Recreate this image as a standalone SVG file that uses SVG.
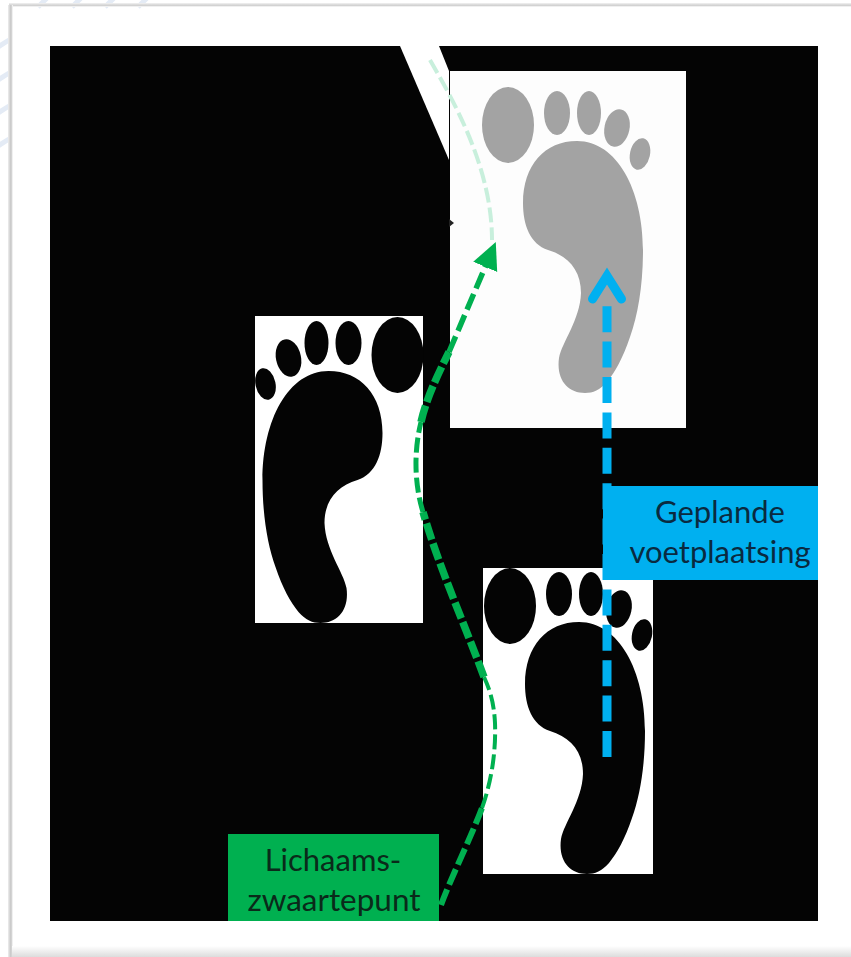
<svg xmlns="http://www.w3.org/2000/svg" width="851" height="957" viewBox="0 0 851 957">
<style>
.t{font-family:Lato,"Open Sans","Liberation Sans",sans-serif;font-size:31px;text-anchor:middle}
.g{stroke:#00b050;fill:none}
</style>
<defs>
<linearGradient id="fb" x1="0" y1="0" x2="0" y2="1"><stop offset="0" stop-color="#fff"/><stop offset="1" stop-color="#dcdcdc"/></linearGradient>
<linearGradient id="fl" x1="0" y1="0" x2="1" y2="0"><stop offset="0" stop-color="#eee"/><stop offset="0.6" stop-color="#c4c4c4"/><stop offset="1" stop-color="#fff"/></linearGradient>
<linearGradient id="ft" x1="0" y1="0" x2="0" y2="1"><stop offset="0" stop-color="#f2f2f2"/><stop offset="0.6" stop-color="#cfcfcf"/><stop offset="1" stop-color="#fff"/></linearGradient>
<g id="foot">
<path d="M577,141C617,141 643,190 643,250C643,285 638,315 630,337C623,358 615,372 607,382C600,390 593,393 585,393C568,393 556,380 559,358C562,342 580,320 581,293C581,270 568,256 548,250C530,244 523,225 523,203C523,165 545,141 577,141Z"/>
<ellipse cx="508" cy="125" rx="26" ry="38"/>
<ellipse cx="557" cy="113" rx="13" ry="22"/>
<ellipse cx="589" cy="113" rx="12" ry="22"/>
<ellipse cx="617" cy="128" rx="12.5" ry="19" transform="rotate(12 617 128)"/>
<ellipse cx="640" cy="154" rx="10" ry="16" transform="rotate(12 640 154)"/>
</g>
<marker id="ga" markerUnits="userSpaceOnUse" markerWidth="40" markerHeight="40" viewBox="0 0 40 40" refX="2" refY="20" orient="auto"><path d="M0,7L27,20L0,33Z" fill="#00b050"/></marker>
<marker id="ba" markerUnits="userSpaceOnUse" markerWidth="60" markerHeight="60" viewBox="0 0 60 60" refX="6" refY="30" orient="auto"><path d="M10,15.5L33,30L10,44.5" fill="none" stroke="#00b0f0" stroke-width="9" stroke-linecap="round"/></marker>
</defs>
<rect width="851" height="957" fill="#fff"/>
<path d="M38,7L48,-3M72,7L82,-3M105,7L115,-3M138,7L148,-3M-2,47L9,40M-2,80L9,73M-2,113L9,106M-2,146L9,139" stroke="#e4ebf5" stroke-width="5" fill="none"/>
<rect x="9" y="3" width="842" height="4" fill="url(#ft)"/>
<rect x="8" y="5" width="5" height="952" fill="url(#fl)"/>
<rect x="12" y="946" width="839" height="11" fill="url(#fb)"/>
<rect x="50" y="46" width="768" height="875" fill="#040404"/>
<path d="M400,46H439L449,71V160Z" fill="#fff"/>
<g id="foot-planned">
<rect x="450" y="71" width="236" height="357" fill="#fdfdfd"/>
<use href="#foot" fill="#a3a3a3"/>
</g>
<path d="M449,219L454,223L449,227Z" fill="#222"/>
<g id="foot-left">
<rect x="255" y="316" width="168" height="307" fill="#fff"/>
<use href="#foot" fill="#040404" transform="matrix(-1 0 0 1 905.5 230)"/>
</g>
<g id="foot-right">
<rect x="483" y="568" width="170" height="306" fill="#fff"/>
<use href="#foot" fill="#040404" transform="translate(2 481)"/>
</g>
<g id="connectors" fill="none">
<path d="M430,60C450,95 492,165 492,240" stroke="#c8efdc" stroke-width="4" stroke-dasharray="15 5"/>
<path class="g" d="M441,905C450,880 472,835 482,808" stroke-width="6" stroke-dasharray="17 5"/>
<path class="g" d="M482,808C492,780 496,750 495,723C494,703 490,690 484,677" stroke-width="4" stroke-dasharray="15 5"/>
<path class="g" d="M484,677C465,625 440,570 423,512" stroke-width="7.5" stroke-dasharray="17 4"/>
<path class="g" d="M423,512C414,483 414,450 421,422" stroke-width="5" stroke-dasharray="15 5"/>
<path class="g" d="M421,422C426,400 436,378 449,352" stroke-width="7.5" stroke-dasharray="17 4"/>
<path class="g" d="M449,352L486,265" stroke-width="5.5" stroke-dasharray="17 6" marker-end="url(#ga)"/>
<path d="M607,757V303" stroke="#00b0f0" stroke-width="9" stroke-dasharray="26 9.4" marker-end="url(#ba)"/>
</g>
<g id="label-voetplaatsing">
<rect x="603" y="486" width="215" height="94" fill="#00b0f0"/>
<text class="t" x="720" y="523" fill="#0a2a40">Geplande</text>
<text class="t" x="720" y="563" fill="#0a2a40">voetplaatsing</text>
</g>
<g id="label-zwaartepunt">
<rect x="228" y="834" width="211" height="87" fill="#00b050"/>
<text class="t" x="333" y="871" fill="#0a2a1a">Lichaams-</text>
<text class="t" x="334" y="911" fill="#0a2a1a" textLength="173" lengthAdjust="spacingAndGlyphs">zwaartepunt</text>
</g>
</svg>
